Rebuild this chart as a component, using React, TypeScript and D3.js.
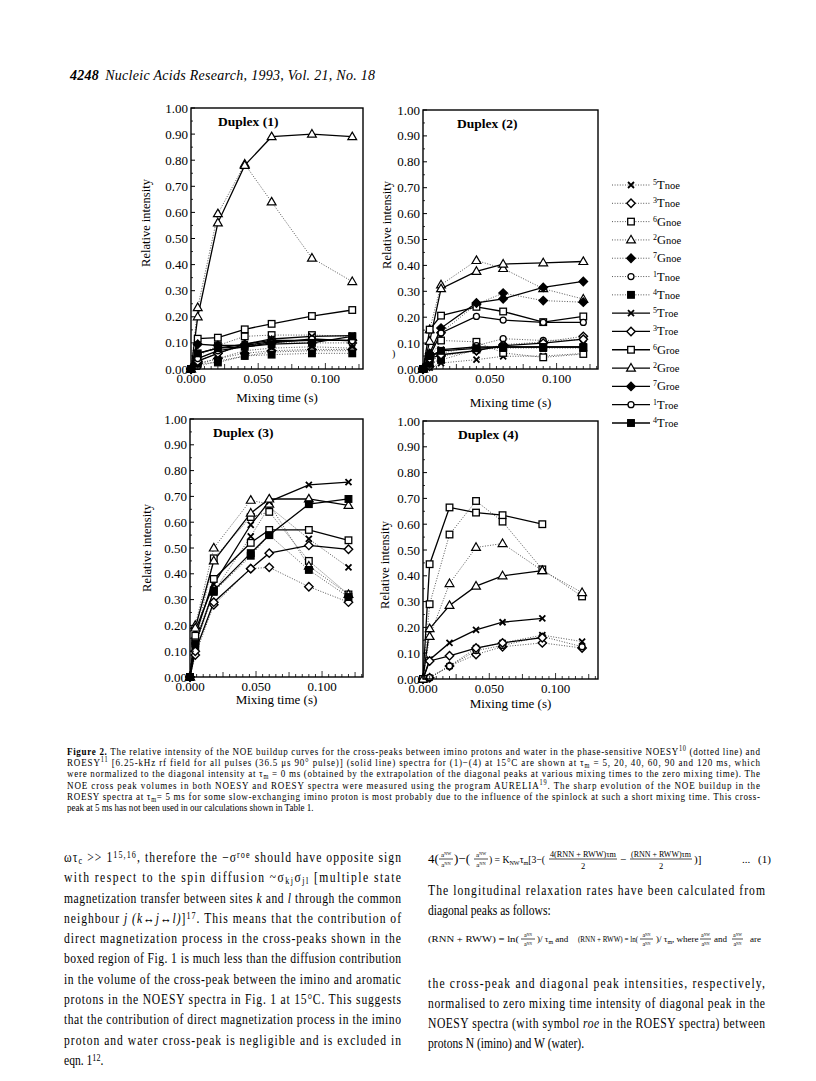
import React from 'react';
import * as d3 from 'd3';

const FONT = '"Liberation Serif", "Times New Roman", Times, serif';

// residues in legend order and the symbol used for each
const residues = ['5T', '3T', '6G', '2G', '7G', '1T', '4T'];
const symbols = ['cross', 'diamond', 'square', 'triangle', 'diamondFill', 'circle', 'squareFill'];

// mixing times (s) as they sit in each panel
const times1 = [0, 0.005, 0.02, 0.04, 0.06, 0.09, 0.12];
const times2 = [0, 0.005, 0.0135, 0.04, 0.06, 0.09, 0.12];
const times3 = [0, 0.004, 0.018, 0.046, 0.06, 0.09, 0.12];
const times4 = [0, 0.005, 0.02, 0.04, 0.06, 0.09, 0.12];

// relative intensities, one row per residue (null = not in this duplex)
const duplex1Noe = [
  [0, 0.02, 0.04, 0.07, 0.08, 0.085, 0.08],
  [0, 0.03, 0.06, 0.09, 0.1, 0.1, 0.1],
  [0, 0.05, 0.09, 0.125, 0.13, 0.13, 0.125],
  [0, 0.235, 0.595, 0.785, 0.64, 0.425, 0.335],
  [0, 0.02, 0.04, 0.06, 0.07, 0.075, 0.075],
  [0, 0.01, 0.03, 0.05, 0.065, 0.07, 0.07],
  [0, 0.02, 0.025, 0.05, 0.055, 0.06, 0.06],
];
const duplex1Roe = [
  [0, 0.06, 0.08, 0.095, 0.115, 0.125, 0.128],
  [0, 0.03, 0.06, 0.095, 0.11, 0.11, 0.11],
  [0, 0.116, 0.12, 0.152, 0.173, 0.203, 0.226],
  [0, 0.2, 0.56, 0.78, 0.89, 0.9, 0.89],
  [0, 0.095, 0.09, 0.09, 0.105, 0.11, 0.11],
  [0, 0.04, 0.07, 0.085, 0.1, 0.115, 0.108],
  [0, 0.06, 0.08, 0.085, 0.095, 0.1, 0.125],
];
const duplex2Noe = [
  [0, 0.005, 0.023, 0.036, 0.049, 0.05, 0.06],
  [0, 0.01, 0.05, 0.07, 0.094, 0.104, 0.126],
  [0, 0.04, 0.11, 0.105, 0.062, 0.045, 0.058],
  [0, 0.152, 0.325, 0.419, 0.388, 0.31, 0.27],
  [0, 0.05, 0.14, 0.25, 0.293, 0.264, 0.258],
  [0, 0.02, 0.06, 0.09, 0.117, 0.11, 0.113],
  [0, 0.02, 0.035, 0.075, 0.081, 0.081, 0.081],
];
const duplex2Roe = [
  [0, 0.04, 0.075, 0.085, 0.085, 0.085, 0.085],
  [0, 0.04, 0.055, 0.071, 0.09, 0.1, 0.115],
  [0, 0.152, 0.206, 0.24, 0.222, 0.181, 0.203],
  [0, 0.107, 0.31, 0.377, 0.405, 0.41, 0.415],
  [0, 0.06, 0.158, 0.255, 0.271, 0.315, 0.338],
  [0, 0.05, 0.139, 0.203, 0.189, 0.18, 0.18],
  [0, 0.05, 0.07, 0.08, 0.085, 0.085, 0.085],
];
const duplex3Noe = [
  [0, 0.15, 0.33, 0.545, 0.66, 0.535, 0.425],
  [0, 0.085, 0.28, 0.42, 0.425, 0.35, 0.29],
  [0, 0.14, 0.46, 0.62, 0.64, 0.45, 0.32],
  [0, 0.2, 0.5, 0.685, 0.67, 0.43, 0.32],
  null,
  null,
  [0, 0.12, 0.33, 0.47, 0.55, 0.415, 0.31],
];
const duplex3Roe = [
  [0, 0.18, 0.36, 0.59, 0.68, 0.745, 0.755],
  [0, 0.1, 0.29, 0.42, 0.48, 0.51, 0.495],
  [0, 0.16, 0.38, 0.52, 0.57, 0.57, 0.53],
  [0, 0.19, 0.45, 0.635, 0.69, 0.69, 0.665],
  null,
  null,
  [0, 0.13, 0.335, 0.48, 0.55, 0.67, 0.69],
];
const duplex4Noe = [
  [0, 0.005, 0.05, 0.12, 0.14, 0.17, 0.145],
  [0, 0.005, 0.05, 0.095, 0.125, 0.14, 0.12],
  [0, 0.29, 0.56, 0.69, 0.61, 0.425, 0.32],
  [0, 0.165, 0.37, 0.51, 0.525, 0.42, 0.335],
  null,
  [0, 0.005, 0.05, 0.11, 0.13, 0.165, 0.125],
  null,
];
const duplex4Roe = [
  [0, 0.075, 0.14, 0.19, 0.22, 0.235, null],
  [0, 0.07, 0.09, 0.12, 0.14, 0.16, null],
  [0, 0.445, 0.665, 0.645, 0.635, 0.6, null],
  [0, 0.195, 0.285, 0.36, 0.4, 0.42, null],
  null,
  null,
  null,
];

const yTicks = d3.range(0, 1.0001, 0.1);
const xTicks = [0, 0.05, 0.1];

function Marker({ kind, x, y }: any) {
  if (kind === 'cross')
    return <path d={`M${x - 3},${y - 3}L${x + 3},${y + 3}M${x - 3},${y + 3}L${x + 3},${y - 3}`} stroke="#000" strokeWidth={1.8} />;
  if (kind === 'diamond' || kind === 'diamondFill')
    return <path d={`M${x},${y - 4.2}L${x + 4.2},${y}L${x},${y + 4.2}L${x - 4.2},${y}Z`}
      fill={kind === 'diamondFill' ? '#000' : '#fff'} stroke="#000" strokeWidth={1.4} />;
  if (kind === 'square' || kind === 'squareFill')
    return <rect x={x - 3.3} y={y - 3.3} width={6.6} height={6.6}
      fill={kind === 'squareFill' ? '#000' : '#fff'} stroke="#000" strokeWidth={1.3} />;
  if (kind === 'triangle')
    return <path d={`M${x},${y - 4.6}L${x + 4.4},${y + 3}L${x - 4.4},${y + 3}Z`} fill="#fff" stroke="#000" strokeWidth={1.2} />;
  return <circle cx={x} cy={y} r={3} fill="#fff" stroke="#000" strokeWidth={1.3} />;
}

const dotted = { stroke: '#444', strokeWidth: 0.9, strokeDasharray: '1,1.6', fill: 'none' };
const solid = { stroke: '#000', strokeWidth: 1.3, fill: 'none' };

function Panel({ p }: any) {
  const x = d3.scaleLinear().domain([0, p.xMax]).range([p.left, p.right]);
  const y = d3.scaleLinear().domain([0, 1]).range([p.bottom, p.top]);
  const line = d3.line<any>()
    .defined(d => d[1] != null)
    .x(d => x(d[0]))
    .y(d => y(d[1]));
  const pts = (vals: any) => p.times.map((t: number, i: number) => [t, vals[i]]);
  const minor = d3.range(0, p.xMax + 1e-9, 0.005);
  const yMinor = d3.range(0.05, 1, 0.1);

  return (
    <g fontFamily={FONT}>
      {/* series: dotted NOESY first, then solid ROESY */}
      {p.noe.map((vals: any, i: number) => vals &&
        <path key={'n' + i} d={line(pts(vals)) || ''} {...dotted} />)}
      {p.roe.map((vals: any, i: number) => vals &&
        <path key={'r' + i} d={line(pts(vals)) || ''} {...solid} />)}
      {[p.noe, p.roe].map((set: any, k: number) => set.map((vals: any, i: number) => vals &&
        pts(vals).filter((d: any) => d[1] != null).map((d: any, j: number) =>
          <Marker key={k + '-' + i + '-' + j} kind={symbols[i]} x={x(d[0])} y={y(d[1])} />)))}

      <rect x={p.left} y={p.top} width={p.right - p.left} height={p.bottom - p.top} fill="none" stroke="#000" strokeWidth={1.4} />
      {yTicks.map(v => (
        <g key={'y' + v}>
          <line x1={p.left} x2={p.left + 4} y1={y(v)} y2={y(v)} stroke="#000" strokeWidth={1} />
          <text x={p.left - 3} y={y(v) + 4.5} fontSize={13} textAnchor="end">{d3.format('.2f')(v)}</text>
        </g>
      ))}
      {yMinor.map(v => <line key={'ym' + v} x1={p.left} x2={p.left + 2} y1={y(v)} y2={y(v)} stroke="#000" strokeWidth={0.8} />)}
      {minor.map((v, i) => {
        const len = i % 10 === 0 ? 6 : i % 5 === 0 ? 5 : 3;
        return <line key={'xm' + i} x1={x(v)} x2={x(v)} y1={p.bottom} y2={p.bottom - len} stroke="#000" strokeWidth={0.8} />;
      })}
      {xTicks.map(v => (
        <text key={'x' + v} x={x(v)} y={p.bottom + 14} fontSize={13} textAnchor="middle">{d3.format('.3f')(v)}</text>
      ))}
      <text x={p.titleX} y={p.top + 18} fontSize={13.5} fontWeight="bold">{p.title}</text>
      <text transform={`translate(${p.ylabX},${p.ylabY}) rotate(-90)`} fontSize={12.5} textAnchor="middle">Relative intensity</text>
      <text x={(p.left + p.right) / 2} y={p.xlabY} fontSize={13} textAnchor="middle">Mixing time (s)</text>
    </g>
  );
}

const panels = [
  { title: 'Duplex (1)', times: times1, noe: duplex1Noe, roe: duplex1Roe, left: 191, right: 363, top: 108, bottom: 369, xMax: 0.128, titleX: 218, ylabX: 150, ylabY: 223, xlabY: 402 },
  { title: 'Duplex (2)', times: times2, noe: duplex2Noe, roe: duplex2Roe, left: 423, right: 598, top: 110, bottom: 369, xMax: 0.131, titleX: 457, ylabX: 391, ylabY: 225, xlabY: 407 },
  { title: 'Duplex (3)', times: times3, noe: duplex3Noe, roe: duplex3Roe, left: 190, right: 363, top: 419, bottom: 677, xMax: 0.131, titleX: 213, ylabX: 151, ylabY: 548, xlabY: 704 },
  { title: 'Duplex (4)', times: times4, noe: duplex4Noe, roe: duplex4Roe, left: 423, right: 598, top: 421, bottom: 679, xMax: 0.132, titleX: 458, ylabX: 389, ylabY: 565, xlabY: 708 },
];

function Legend() {
  const rows: any[] = [];
  ['noe', 'roe'].forEach(kind => residues.forEach((r, i) => rows.push({ kind, r, i })));
  const ly = d3.scaleLinear().domain([0, rows.length - 1]).range([185, 423]);
  return (
    <g fontFamily={FONT}>
      {rows.map((d, k) => (
        <g key={k}>
          <line x1={612} x2={650} y1={ly(k)} y2={ly(k)} {...(d.kind === 'noe' ? dotted : solid)} />
          <Marker kind={symbols[d.i]} x={631} y={ly(k)} />
          <text x={653} y={ly(k) + 4} fontSize={12.5}>
            <tspan fontSize={8} dy={-4}>{d.r[0]}</tspan>
            <tspan dy={4}>{d.r[1]}</tspan>
            <tspan fontSize={10.5}>{d.kind}</tspan>
          </text>
        </g>
      ))}
    </g>
  );
}

const sup = (s: string) => <tspan fontSize="0.7em" dy={-4}>{s}</tspan>;
const back = (s: string) => <tspan dy={4}>{s}</tspan>;
const sub = (s: string) => <tspan fontSize="0.7em" dy={2}>{s}</tspan>;
const unsub = (s: string) => <tspan dy={-2}>{s}</tspan>;

// a block of justified lines, drawn condensed like the scanned type
function Block({ x0, y0, dy, w, squeeze, size, lines, lastW }: any) {
  return (
    <g fontFamily={FONT} fontSize={size} transform={`translate(${x0},0) scale(${squeeze},1)`}>
      {lines.map((l: any, i: number) => {
        const last = i === lines.length - 1;
        const len = last ? lastW : w;
        return (
          <text key={i} x={0} y={y0 + i * dy}
            {...(len ? { textLength: len / squeeze, lengthAdjust: 'spacing' } : {})}>{l}</text>
        );
      })}
    </g>
  );
}

const captionLines: any[] = [
  <><tspan fontWeight="bold">Figure 2.</tspan> The relative intensity of the NOE buildup curves for the cross-peaks between imino protons and water in the phase-sensitive NOESY{sup('10')}{back(' (dotted line) and')}</>,
  <>ROESY{sup('11')}{back(' [6.25-kHz rf field for all pulses (36.5 μs 90° pulse)] (solid line) spectra for (1)−(4) at 15°C are shown at τ')}{sub('m')}{unsub(' = 5, 20, 40, 60, 90 and 120 ms, which')}</>,
  <>were normalized to the diagonal intensity at τ{sub('m')}{unsub(' = 0 ms (obtained by the extrapolation of the diagonal peaks at various mixing times to the zero mixing time). The')}</>,
  <>NOE cross peak volumes in both NOESY and ROESY spectra were measured using the program AURELIA{sup('19')}{back('. The sharp evolution of the NOE buildup in the')}</>,
  <>ROESY spectra at τ{sub('m')}{unsub('= 5 ms for some slow-exchanging imino proton is most probably due to the influence of the spinlock at such a short mixing time. This cross-')}</>,
  <>peak at 5 ms has not been used in our calculations shown in Table 1.</>,
];

const leftLines: any[] = [
  <>ωτ{sub('c')}{unsub(' >> 1')}{sup('15,16')}{back(', therefore the −σ')}{sup('roe')}{back(' should have opposite sign')}</>,
  <>with respect to the spin diffusion ~σ{sub('kj')}{unsub('σ')}{sub('jl')}{unsub(' [multiple state')}</>,
  <>magnetization transfer between sites <tspan fontStyle="italic">k</tspan> and <tspan fontStyle="italic">l</tspan> through the common</>,
  <>neighbour <tspan fontStyle="italic">j (k↔j↔l)</tspan>]{sup('17')}{back('. This means that the contribution of')}</>,
  <>direct magnetization process in the cross-peaks shown in the</>,
  <>boxed region of Fig. 1 is much less than the diffusion contribution</>,
  <>in the volume of the cross-peak between the imino and aromatic</>,
  <>protons in the NOESY spectra in Fig. 1 at 15°C. This suggests</>,
  <>that the contribution of direct magnetization process in the imino</>,
  <>proton and water cross-peak is negligible and is excluded in</>,
  <>eqn. 1{sup('12')}{back('.')}</>,
];

function Frac({ x, y, w, num, den, size = 7, numW }: any) {
  return (
    <g fontSize={size}>
      <text x={x + w / 2} y={y - 2} textAnchor="middle"
        {...(numW ? { textLength: numW, lengthAdjust: 'spacingAndGlyphs' } : {})}>{num}</text>
      <line x1={x} x2={x + w} y1={y} y2={y} stroke="#000" strokeWidth={0.7} />
      <text x={x + w / 2} y={y + size + 1} textAnchor="middle">{den}</text>
    </g>
  );
}

function Equations() {
  const e1 = 859, e2 = 939;
  return (
    <g fontFamily={FONT}>
      {/* equation (1) */}
      <g fontSize={11}>
        <text x={428} y={e1 + 4} fontSize={13}>4(</text>
        <Frac x={439} y={e1} w={14} num="aᴺᵂ" den="aᴺᴺ" />
        <text x={454} y={e1 + 4} fontSize={13}>)−(</text>
        <Frac x={474} y={e1} w={14} num="aᴺᵂ" den="aᴺᴺ" />
        <text x={489} y={e1 + 4} textLength={56} lengthAdjust="spacingAndGlyphs">) = K<tspan fontSize={7} dy={2}>NW</tspan><tspan dy={-2}>τ</tspan><tspan fontSize={7} dy={2}>m</tspan><tspan dy={-2}>[3−(</tspan></text>
        <Frac x={549} y={e1} w={68} num="4(RNN + RWW)τm" den="2" size={8.5} numW={66} />
        <text x={620} y={e1 + 4}>−</text>
        <Frac x={630} y={e1} w={62} num="(RNN + RWW)τm" den="2" size={8.5} numW={60} />
        <text x={694} y={e1 + 4}>)]</text>
        <text x={742} y={e1 + 4}>...</text>
        <text x={758} y={e1 + 4}>(1)</text>
      </g>
      {/* relaxation-rate definitions */}
      <g fontSize={9}>
        <text x={428} y={e2 + 3} textLength={91} lengthAdjust="spacingAndGlyphs">(RNN + RWW) = ln(</text>
        <Frac x={521} y={e2} w={14} num="aᴺᴺ" den="aᴺᴺ" size={6} />
        <text x={537} y={e2 + 3}>)/ τ<tspan fontSize={6} dy={2}>m</tspan><tspan dy={-2}> and</tspan></text>
        <text x={578} y={e2 + 3} textLength={60} lengthAdjust="spacingAndGlyphs">(RNN + RWW) = ln(</text>
        <Frac x={640} y={e2} w={13} num="aᴺᴺ" den="aᴺᴺ" size={6} />
        <text x={656} y={e2 + 3}>)/ τ<tspan fontSize={6} dy={2}>m</tspan><tspan dy={-2}>, where</tspan></text>
        <Frac x={700} y={e2} w={11} num="aᴺᵂ" den="aᴺᴺ" size={6} />
        <text x={714} y={e2 + 3}>and</text>
        <Frac x={732} y={e2} w={11} num="aᴺᵂ" den="aᴺᴺ" size={6} />
        <text x={750} y={e2 + 3}>are</text>
      </g>
    </g>
  );
}

const rightA: any[] = [
  <>The longitudinal relaxation rates have been calculated from</>,
  <>diagonal peaks as follows:</>,
];
const rightB: any[] = [
  <>the cross-peak and diagonal peak intensities, respectively,</>,
  <>normalised to zero mixing time intensity of diagonal peak in the</>,
  <>NOESY spectra (with symbol <tspan fontStyle="italic">roe</tspan> in the ROESY spectra) between</>,
  <>protons N (imino) and W (water).</>,
];

export default function App() {
  return (
    <svg width={816} height={1081} viewBox="0 0 816 1081"
      style={{ position: 'absolute', left: 0, top: 0, background: '#fff' }}>
      <rect width={816} height={1081} fill="#fff" />
      <text x={70} y={80} fontFamily={FONT} fontSize={14} fontStyle="italic" textLength={305} lengthAdjust="spacing">
        <tspan fontWeight="bold">4248</tspan>
        <tspan dx={6}>Nucleic Acids Research, 1993, Vol. 21, No. 18</tspan>
      </text>
      {panels.map(p => <Panel key={p.title} p={p} />)}
      <text x={392} y={357} fontFamily={FONT} fontSize={10}>)</text>
      <Legend />
      <Block x0={67} y0={755} dy={11.2} w={693} squeeze={0.86} size={10.5} lines={captionLines} />
      <Block x0={64} y0={862} dy={20.3} w={337} squeeze={0.8} size={14.5} lines={leftLines} />
      <Block x0={428} y0={895} dy={20} w={337} squeeze={0.8} size={14.5} lines={rightA} />
      <Block x0={428} y0={988} dy={20} w={337} squeeze={0.8} size={14.5} lines={rightB} />
      <Equations />
    </svg>
  );
}
